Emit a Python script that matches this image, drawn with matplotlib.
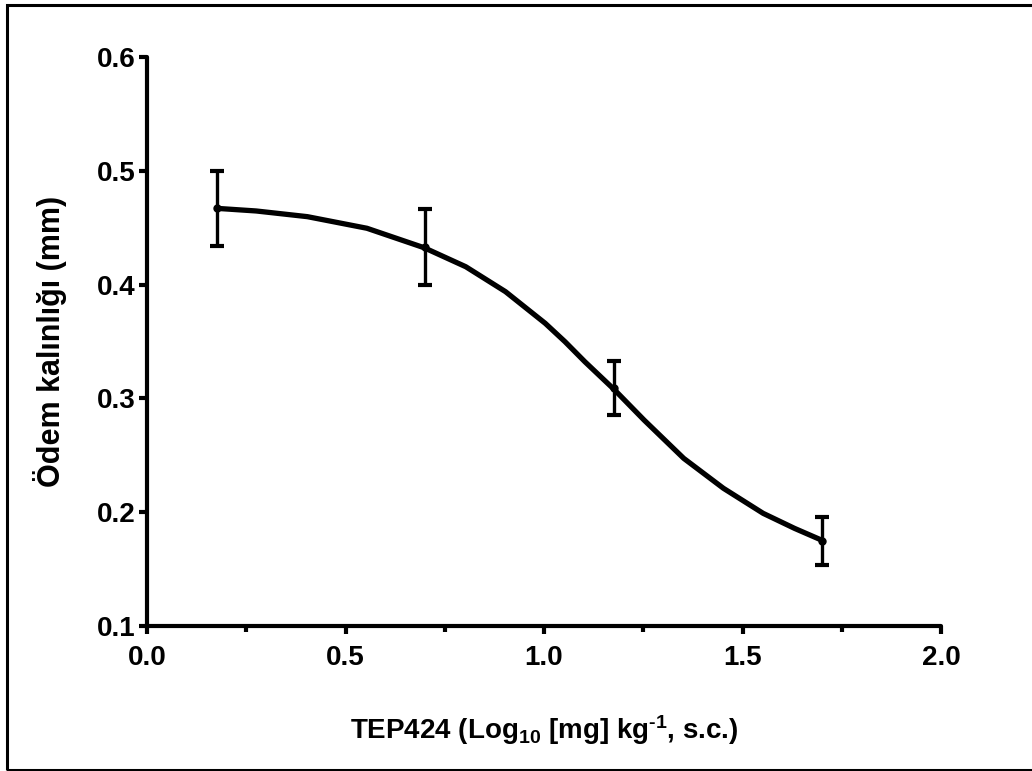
import matplotlib
matplotlib.use("Agg")
import matplotlib.pyplot as plt
from matplotlib.patches import Rectangle
from matplotlib.ticker import MultipleLocator

plt.rcParams['font.family'] = ['Liberation Sans', 'DejaVu Sans']
plt.rcParams['font.weight'] = 'bold'
plt.rcParams['mathtext.fontset'] = 'custom'
plt.rcParams['mathtext.rm'] = 'Liberation Sans:bold'
plt.rcParams['mathtext.default'] = 'rm'

# Measured data (log10 dose vs edema thickness)
dose_log = [0.176, 0.699, 1.176, 1.699]
thickness = [0.467, 0.433, 0.309, 0.175]
sem = [0.033, 0.033, 0.024, 0.021]

# Fitted curve
curve_x = [0.176, 0.275, 0.404, 0.554, 0.698, 0.803, 0.903, 1.003, 1.053,
           1.103, 1.178, 1.252, 1.352, 1.452, 1.552, 1.631, 1.699]
curve_y = [0.4670, 0.4647, 0.4597, 0.4495, 0.4324, 0.4157, 0.3938, 0.3660, 0.3498,
           0.3322, 0.3074, 0.2810, 0.2473, 0.2210, 0.1990, 0.1858, 0.1755]

x_ticks = [0.0, 0.5, 1.0, 1.5, 2.0]
x_tick_labels = ['0.0', '0.5', '1.0', '1.5', '2.0']
y_ticks = [0.1, 0.2, 0.3, 0.4, 0.5, 0.6]
y_tick_labels = ['0.1', '0.2', '0.3', '0.4', '0.5', '0.6']

W, H = 1032, 771
fig = plt.figure(figsize=(W / 100, H / 100), dpi=100)
ax = fig.add_axes([147 / W, 1 - 626 / H, (941 - 147) / W, (626 - 57) / H])

ax.plot(curve_x, curve_y, color='black', lw=3.8, solid_capstyle='round',
        solid_joinstyle='round', zorder=3)
ax.errorbar(dose_log, thickness, yerr=sem, fmt='o', color='black', ms=5,
            elinewidth=2.4, capsize=5, capthick=3, zorder=4)

ax.set_xlim(0, 2.0)
ax.set_ylim(0.1, 0.6)
ax.set_xticks(x_ticks)
ax.set_xticklabels(x_tick_labels)
ax.set_yticks(y_ticks)
ax.set_yticklabels(y_tick_labels)
ax.xaxis.set_minor_locator(MultipleLocator(0.25))

for side in ['top', 'right']:
    ax.spines[side].set_visible(False)
for side in ['left', 'bottom']:
    ax.spines[side].set_linewidth(3)
    ax.spines[side].set_capstyle('round')

ax.tick_params(axis='both', which='major', length=6, width=3, labelsize=20,
               direction='out', pad=2)
ax.tick_params(axis='x', which='minor', length=4, width=3, direction='out')
ax.tick_params(axis='x', which='major', pad=8)
for lab in ax.get_xticklabels() + ax.get_yticklabels():
    lab.set_fontweight('bold')

ax.set_xlabel(r'TEP424 (Log$_{10}$ [mg] kg$^{\text{-}1}$, s.c.)', fontsize=20,
              fontweight='bold', labelpad=30)
ax.set_ylabel('Ödem kalınlığı (mm)', fontsize=22, fontweight='bold', labelpad=22)

fig.patches.append(Rectangle((7 / W, 1 / H), (1040 - 7) / W, 765 / H,
                             transform=fig.transFigure, fill=False,
                             edgecolor='black', linewidth=2.2))

fig.savefig('out.png', dpi=100)
